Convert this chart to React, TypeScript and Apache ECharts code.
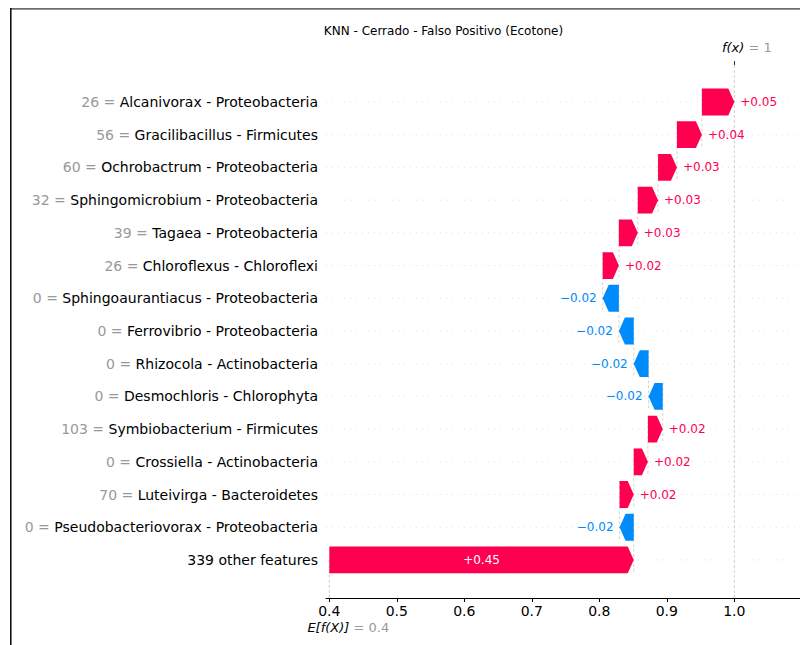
import React, { useEffect, useRef } from 'react';
import * as echarts from 'echarts';

const chartTitle = 'KNN - Cerrado - Falso Positivo (Ecotone)';
const featureNames = [
  'Alcanivorax - Proteobacteria',
  'Gracilibacillus - Firmicutes',
  'Ochrobactrum - Proteobacteria',
  'Sphingomicrobium - Proteobacteria',
  'Tagaea - Proteobacteria',
  'Chloroflexus - Chloroflexi',
  'Sphingoaurantiacus - Proteobacteria',
  'Ferrovibrio - Proteobacteria',
  'Rhizocola - Actinobacteria',
  'Desmochloris - Chlorophyta',
  'Symbiobacterium - Firmicutes',
  'Crossiella - Actinobacteria',
  'Luteivirga - Bacteroidetes',
  'Pseudobacteriovorax - Proteobacteria',
  '339 other features',
];
const featureValues = ['26', '56', '60', '32', '39', '26', '0', '0', '0', '0', '103', '0', '70', '0', ''];
const shapValues = [0.048, 0.037, 0.028, 0.03, 0.028, 0.024, -0.024, -0.022, -0.022, -0.021, 0.022, 0.021, 0.021, -0.021, 0.451];
const baseValue = 0.4;
const xTicks = [0.4, 0.5, 0.6, 0.7, 0.8, 0.9, 1.0];
const xMin = 0.3951;
const xMax = 1.0973;

const POS = '#ff0051';
const NEG = '#008bfb';
const FONT = '"DejaVu Sans", sans-serif';
const TOP_OFFSET = 20.6;
const BOTTOM_OFFSET = 21.7;

function fmt(v: number): string {
  return (v >= 0 ? '+' : '\u2212') + Math.abs(v).toFixed(2);
}
function fmtPlain(v: number): string {
  return String(Number(v.toFixed(3)));
}

export default function App() {
  const ref = useRef<HTMLDivElement>(null);
  useEffect(() => {
    const chart = echarts.init(ref.current!, null, { renderer: 'svg' });
    const n = featureNames.length;
    const starts: number[] = new Array(n);
    let acc = baseValue;
    for (let k = n - 1; k >= 0; k--) {
      starts[k] = acc;
      acc += shapValues[k];
    }
    const finalValue = acc;
    const barData = shapValues.map((v, k) => [starts[k], starts[k] + v, k, v]);
    const rowData = featureNames.map((_, k) => [baseValue, k]);

    const option: any = {
      animation: false,
      backgroundColor: '#fff',
      grid: { left: 326, width: 474, top: 85.64, bottom: 68.7, containLabel: false },
      graphic: [
        { type: 'rect', shape: { x: 10, y: 8, width: 790, height: 1.8 }, style: { fill: '#6e6e6e' } },
        { type: 'rect', shape: { x: 10, y: 8, width: 1.6, height: 637 }, style: { fill: '#111' } },
        {
          type: 'text',
          x: 443.5,
          y: 31,
          style: { text: chartTitle, align: 'center', verticalAlign: 'middle', font: '12px ' + FONT, fill: '#000' },
        },
      ],
      xAxis: [
        {
          type: 'value',
          position: 'bottom',
          min: xMin,
          max: xMax,
          offset: BOTTOM_OFFSET,
          axisLine: { show: true, lineStyle: { color: '#000', width: 1 } },
          axisTick: { show: true, customValues: xTicks, length: 4, lineStyle: { color: '#000' } },
          axisLabel: {
            customValues: xTicks,
            formatter: (v: number) => v.toFixed(1),
            fontSize: 14,
            color: '#000',
            fontFamily: FONT,
            margin: 6,
          },
          splitLine: { show: false },
        },
        {
          type: 'value',
          position: 'top',
          min: xMin,
          max: xMax,
          offset: TOP_OFFSET,
          axisLine: { show: false },
          axisTick: { show: true, customValues: [finalValue], length: 4, lineStyle: { color: '#333' } },
          axisLabel: {
            customValues: [finalValue],
            formatter: () => '{s|}{f|f(x)}{g| = ' + fmtPlain(finalValue) + '}',
            margin: 11,
            rich: {
              s: { width: 25 },
              f: { fontSize: 13, fontStyle: 'italic', color: '#000', fontFamily: FONT },
              g: { fontSize: 13, color: '#999999', fontFamily: FONT },
            },
          },
          splitLine: { show: false },
        },
        {
          type: 'value',
          position: 'bottom',
          min: xMin,
          max: xMax,
          offset: BOTTOM_OFFSET,
          axisLine: { show: false },
          axisTick: { show: false },
          axisLabel: {
            customValues: [baseValue],
            formatter: () => '{s|}{f|E[f(X)]}{g| = ' + fmtPlain(baseValue) + '}',
            margin: 23,
            rich: {
              s: { width: 38 },
              f: { fontSize: 13, fontStyle: 'italic', color: '#000', fontFamily: FONT },
              g: { fontSize: 13, color: '#999999', fontFamily: FONT },
            },
          },
          splitLine: { show: false },
        },
      ],
      yAxis: {
        type: 'category',
        inverse: true,
        data: featureNames,
        axisLine: { show: false },
        axisTick: { show: false },
        splitLine: { show: false },
        axisLabel: {
          margin: 8,
          formatter: (name: string, idx: number) =>
            featureValues[idx] ? '{g|' + featureValues[idx] + ' = }{b|' + name + '}' : '{b|' + name + '}',
          rich: {
            g: { fontSize: 14, color: '#999999', fontFamily: FONT },
            b: { fontSize: 14, color: '#000', fontFamily: FONT },
          },
        },
      },
      series: [
        {
          type: 'custom',
          name: 'rows',
          xAxisIndex: 0,
          clip: false,
          z: 1,
          data: rowData,
          encode: { x: 0, y: 1 },
          renderItem: (params: any, api: any) => {
            const cs = params.coordSys;
            const k = api.value(1);
            const p = api.coord([api.value(0), k]);
            return {
              type: 'line',
              shape: { x1: cs.x, y1: p[1], x2: cs.x + cs.width, y2: p[1] },
              style: { stroke: '#cccccc', lineWidth: 0.6, lineDash: [1, 5] },
            };
          },
        },
        {
          type: 'custom',
          name: 'refs',
          xAxisIndex: 0,
          clip: false,
          z: 1,
          data: [[finalValue, 0, 1], [baseValue, n - 1, 0]],
          encode: { x: 0, y: 1 },
          renderItem: (params: any, api: any) => {
            const cs = params.coordSys;
            const isFinal = api.value(2) === 1;
            const p = api.coord([api.value(0), api.value(1)]);
            const yBottom = cs.y + cs.height + BOTTOM_OFFSET;
            const yTop = isFinal ? cs.y - TOP_OFFSET : p[1];
            return {
              type: 'line',
              shape: { x1: p[0], y1: yTop, x2: p[0], y2: yBottom },
              style: { stroke: '#bbbbbb', lineWidth: 0.7, lineDash: [3, 2] },
            };
          },
        },
        {
          type: 'custom',
          name: 'bars',
          xAxisIndex: 0,
          clip: false,
          z: 2,
          data: barData,
          encode: { x: [0, 1], y: 2 },
          renderItem: (params: any, api: any) => {
            const s = api.value(0);
            const e = api.value(1);
            const k = api.value(2);
            const v = api.value(3);
            const band = api.size([0, 1])[1];
            const h = band * 0.41;
            const p0 = api.coord([s, k]);
            const p1 = api.coord([e, k]);
            const cy = p0[1];
            const dir = e >= s ? 1 : -1;
            const w = Math.abs(p1[0] - p0[0]);
            const head = Math.min(6, w);
            const color = v >= 0 ? POS : NEG;
            const pts = [
              [p0[0], cy - h],
              [p1[0] - dir * head, cy - h],
              [p1[0], cy],
              [p1[0] - dir * head, cy + h],
              [p0[0], cy + h],
            ];
            const inside = w > 60;
            const children: any[] = [];
            if (k < n - 1) {
              const below = api.coord([s, k + 1]);
              children.push({
                type: 'line',
                shape: { x1: p0[0], y1: cy - h, x2: p0[0], y2: below[1] + h },
                style: { stroke: '#bbbbbb', lineWidth: 0.6, lineDash: [3, 2] },
              });
            }
            children.push({ type: 'polygon', shape: { points: pts }, style: { fill: color } });
            children.push({
              type: 'text',
              style: {
                text: fmt(v),
                x: inside ? (p0[0] + p1[0]) / 2 : p1[0] + dir * 6,
                y: cy,
                align: inside ? 'center' : dir > 0 ? 'left' : 'right',
                verticalAlign: 'middle',
                fill: inside ? '#ffffff' : color,
                font: '12px ' + FONT,
              },
            });
            return { type: 'group', children };
          },
        },
      ],
    };
    chart.setOption(option);
    return () => chart.dispose();
  }, []);
  return <div ref={ref} style={{ position: 'fixed', left: 0, top: 0, width: 800, height: 645 }} />;
}
